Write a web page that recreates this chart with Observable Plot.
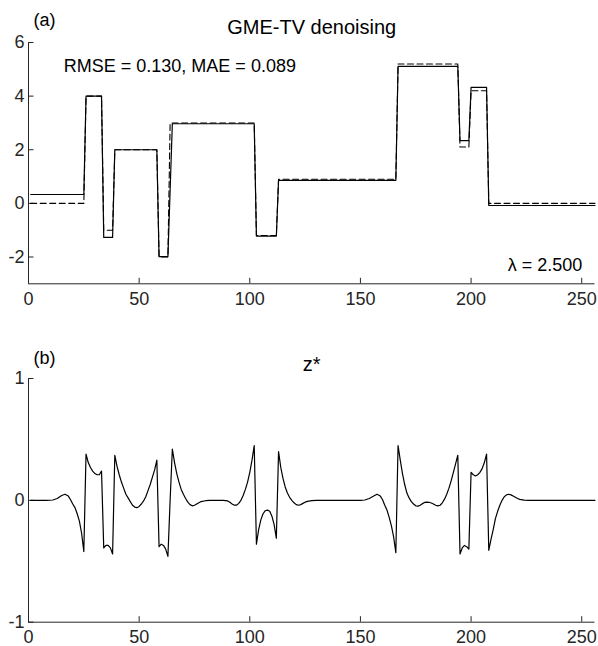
<!DOCTYPE html>
<html><head><meta charset="utf-8">
<script src="https://cdn.jsdelivr.net/npm/d3@7"></script>
<script src="https://cdn.jsdelivr.net/npm/@observablehq/plot@0.6"></script>
<style>
body{margin:0;background:#fff;}
#chart{width:598px;}
#chart svg{display:block;}
</style>
</head><body><div id="chart"></div>
<script>
// ---------- data ----------
const xDomain = [0, 256];
const xTicks = [0, 50, 100, 150, 200, 250];
const lastSample = 256;

// panel (a): piecewise-constant signals (segment start sample, level)
const segStart   = [1, 26, 34, 39, 59, 64, 65, 103, 113, 167, 195, 200, 208];
const estLevels  = [0.33, 4.0, -1.27, 2.0, -1.99, 0.5, 2.97, -1.22, 0.86, 5.11, 2.34, 4.33, -0.08];
const trueLevels = [0, 4, -1, 2, -2, 3, 3, -1.2, 0.9, 5.2, 2.1, 4.2, 0];
const yDomainA = [-3, 6];
const yTicksA = [-2, 0, 2, 4, 6];
const titleA = "GME-TV denoising";
const statsText = "RMSE = 0.130, MAE = 0.089";
const lambdaText = "λ = 2.500";

// panel (b): z*
const zX = [1, 8, 11, 13, 15, 16.5, 18, 19, 20, 21, 22, 23, 24, 25,
  26, 27, 28, 29, 30, 31, 32, 33,
  34, 35, 36, 37, 38,
  39, 40, 41, 42, 43, 44, 45, 46, 47, 48, 49, 50, 51, 52, 53, 54, 55, 56, 57, 58,
  59, 60, 61, 62, 63, 64,
  65, 66, 67, 68, 69, 70, 71, 72, 73, 74, 75, 76, 77, 78, 80, 82, 88, 90, 91, 92, 93, 94, 95, 96, 97, 98, 99, 100, 101, 102,
  103, 104, 105, 106, 107, 108, 109, 110, 111, 112,
  113, 114, 115, 116, 117, 118, 119, 120, 121, 122, 123, 124, 125, 126, 128, 130, 150, 152, 154, 156, 157.5, 159, 160, 161, 162, 163, 164, 165, 166,
  167, 168, 169, 170, 171, 172, 173, 174, 175, 176, 177, 178, 179, 180, 181, 182, 183, 184, 185, 186, 187, 188, 189, 190, 191, 192, 193, 194,
  195, 196, 197, 198, 199,
  200, 201, 202, 203, 204, 205, 206, 207,
  208, 209, 210, 211, 212, 213, 214, 215, 216, 217, 218, 219, 220, 221, 222, 224, 226, 256];
const zV = [0, 0, 0.003, 0.015, 0.04, 0.05, 0.035, 0.005, -0.03, -0.06, -0.11, -0.17, -0.27, -0.42,
  0.38, 0.31, 0.27, 0.24, 0.22, 0.21, 0.21, 0.24,
  -0.39, -0.37, -0.37, -0.39, -0.44,
  0.37, 0.28, 0.21, 0.15, 0.10, 0.05, 0.02, -0.01, -0.04, -0.055, -0.06, -0.05, -0.03, -0.005, 0.03, 0.08, 0.13, 0.19, 0.25, 0.33,
  -0.38, -0.36, -0.37, -0.40, -0.46, 0.0,
  0.42, 0.31, 0.22, 0.15, 0.09, 0.05, 0.015, -0.015, -0.035, -0.045, -0.04, -0.03, -0.02, -0.01, -0.003, 0, 0, -0.005, -0.015, -0.03, -0.04, -0.04, -0.025, 0.0, 0.04, 0.09, 0.15, 0.23, 0.33, 0.45,
  -0.36, -0.24, -0.16, -0.11, -0.085, -0.08, -0.09, -0.13, -0.20, -0.31,
  0.40, 0.27, 0.18, 0.11, 0.06, 0.025, 0.0, -0.02, -0.035, -0.04, -0.035, -0.025, -0.015, -0.008, -0.002, 0, 0, 0.003, 0.015, 0.035, 0.05, 0.035, 0.005, -0.04, -0.08, -0.14, -0.21, -0.30, -0.43,
  0.45, 0.33, 0.22, 0.13, 0.06, 0.02, -0.01, -0.03, -0.045, -0.047, -0.04, -0.027, -0.017, -0.014, -0.016, -0.022, -0.03, -0.04, -0.045, -0.04, -0.02, 0.01, 0.05, 0.10, 0.16, 0.23, 0.30, 0.37,
  -0.44, -0.39, -0.37, -0.38, -0.40,
  0.23, 0.21, 0.20, 0.21, 0.23, 0.26, 0.31, 0.38,
  -0.41, -0.32, -0.24, -0.15, -0.09, -0.04, 0.0, 0.03, 0.045, 0.05, 0.045, 0.035, 0.025, 0.015, 0.008, 0.002, 0, 0];
const yDomainB = [-1, 1];
const yTicksB = [-1, 0, 1];
const titleB = "z*";

// ---------- build series (expand segments to samples) ----------
function expand(levels) {
  const out = [];
  for (let i = 0; i < segStart.length; i++) {
    const end = i + 1 < segStart.length ? segStart[i + 1] - 1 : lastSample;
    for (let s = segStart[i]; s <= end; s++) out.push({x: s, y: levels[i]});
  }
  return out;
}
const estSeries = expand(estLevels);
const trueSeries = expand(trueLevels);
const zSeries = zX.map((x, i) => ({x, y: zV[i]}));

// ---------- styling ----------
const font = '"Liberation Sans", Arial, Helvetica, sans-serif';
const ink = "#262626";
const fmt = d => String(d);

function axes(yDomain, yTicks) {
  return [
    Plot.ruleX([xDomain[0]], {y1: yDomain[0], y2: yDomain[1], stroke: ink, strokeWidth: 1}),
    Plot.ruleY([yDomain[0]], {x1: xDomain[0], x2: xDomain[1], stroke: ink, strokeWidth: 1}),
    Plot.axisX({ticks: xTicks, tickSize: -5.5, tickFormat: () => "", stroke: ink, label: null}),
    Plot.axisX({ticks: xTicks, tickSize: 0, tickPadding: 8.5, tickFormat: fmt, fill: ink, fontSize: 18, label: null}),
    Plot.axisY({ticks: yTicks, tickSize: -5.5, tickFormat: () => "", stroke: ink, label: null}),
    Plot.axisY({ticks: yTicks, tickSize: 0, tickPadding: 4, tickFormat: fmt, fill: ink, fontSize: 18, label: null})
  ];
}

const plotA = Plot.plot({
  width: 598, height: 323,
  marginLeft: 28, marginRight: 3.5, marginTop: 42, marginBottom: 39.7,
  style: {fontFamily: font, fontSize: "18px", color: ink, background: "white"},
  x: {domain: xDomain, label: null},
  y: {domain: yDomainA, label: null},
  marks: [
    ...axes(yDomainA, yTicksA),
    Plot.line(trueSeries, {x: "x", y: "y", stroke: "black", strokeWidth: 1.1, strokeDasharray: "6,3.5"}),
    Plot.line(estSeries, {x: "x", y: "y", stroke: "black", strokeWidth: 1.2}),
    Plot.text([titleA], {frameAnchor: "top", dy: -9, lineAnchor: "bottom", fontSize: 20, fill: "black"}),
    Plot.text(["(a)"], {frameAnchor: "top-left", dx: 5, dy: -17, textAnchor: "start", lineAnchor: "bottom", fontSize: 18, fill: "black"}),
    Plot.text([statsText], {frameAnchor: "top-left", dx: 35.3, dy: 29.7, textAnchor: "start", lineAnchor: "bottom", fontSize: 18, fill: "black"}),
    Plot.text([lambdaText], {frameAnchor: "bottom-right", dx: -12.8, dy: -13.3, textAnchor: "end", lineAnchor: "bottom", fontSize: 18, fill: "black"})
  ]
});

const plotB = Plot.plot({
  width: 598, height: 323,
  marginLeft: 28, marginRight: 3.5, marginTop: 55, marginBottom: 24.3,
  style: {fontFamily: font, fontSize: "18px", color: ink, background: "white"},
  x: {domain: xDomain, label: null},
  y: {domain: yDomainB, label: null},
  marks: [
    ...axes(yDomainB, yTicksB),
    Plot.line(zSeries, {x: "x", y: "y", stroke: "black", strokeWidth: 1.2}),
    Plot.text([titleB], {frameAnchor: "top", dy: -8, lineAnchor: "bottom", fontSize: 20, fill: "black"}),
    Plot.text(["(b)"], {frameAnchor: "top-left", dx: 5, dy: -15, textAnchor: "start", lineAnchor: "bottom", fontSize: 18, fill: "black"})
  ]
});

document.getElementById("chart").append(plotA, plotB);
</script></body></html>
